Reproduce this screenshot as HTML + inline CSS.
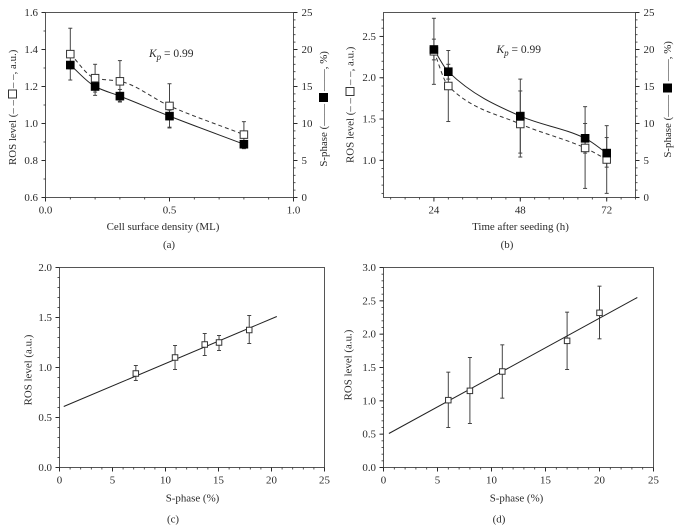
<!DOCTYPE html>
<html lang="en">
<head>
<meta charset="utf-8">
<title>ROS level and S-phase charts</title>
<style>
html,body{margin:0;padding:0;background:#fff;width:680px;height:531px;overflow:hidden}
svg{display:block}
text{font-family:"Liberation Serif",serif;font-size:10.9px;fill:#2a2a2a}
</style>
</head>
<body>
<svg id="figure" width="680" height="531" viewBox="0 0 680 531" xmlns="http://www.w3.org/2000/svg"></svg>
<script>
// Panel (a)
const aDensity = [0.1, 0.2, 0.3, 0.5, 0.8];
const aRos = [1.375, 1.245, 1.228, 1.095, 0.94];
const aRosUpper = [1.515, 1.32, 1.34, 1.215, 1.01];
const aRosLower = [1.235, 1.17, 1.12, 0.98, 0.87];
const aSphase = [17.9, 15, 13.7, 11, 7.2];
const aSphaseUpper = [18.2, 16.4, 14.6, 11.8, 7.7];
const aSphaseLower = [17.4, 13.8, 12.9, 9.4, 6.6];
const aXTicks = ['0.0', '0.5', '1.0'];
const aYTicks = ['0.6', '0.8', '1.0', '1.2', '1.4', '1.6'];
const aRightTicks = ['0', '5', '10', '15', '20', '25'];

// Panel (b)
const bTime = [24, 28, 48, 66, 72];
const bRos = [2.32, 1.9, 1.44, 1.15, 1.01];
const bRosUpper = [2.72, 2.33, 1.84, 1.65, 1.42];
const bRosLower = [1.92, 1.47, 1.04, 0.66, 0.6];
const bSphase = [20, 17, 11, 8, 6];
const bSphaseUpper = [21.4, 18, 16, 10, 8.1];
const bSphaseLower = [18.6, 16, 6, 6, 4.1];
const bXTicks = ['24', '48', '72'];
const bYTicks = ['1.0', '1.5', '2.0', '2.5'];
const bRightTicks = ['0', '5', '10', '15', '20', '25'];

// Panel (c)
const cSphase = [7.2, 10.9, 13.7, 15.05, 17.9];
const cRos = [0.94, 1.1, 1.23, 1.25, 1.375];
const cRosUpper = [1.02, 1.22, 1.34, 1.32, 1.52];
const cRosLower = [0.87, 0.98, 1.12, 1.17, 1.24];
const cFitX = [0.4, 20.5];
const cFitY = [0.61, 1.51];
const cXTicks = ['0', '5', '10', '15', '20', '25'];
const cYTicks = ['0.0', '0.5', '1.0', '1.5', '2.0'];

// Panel (d)
const dSphase = [6, 8, 11, 17, 20];
const dRos = [1.01, 1.15, 1.44, 1.9, 2.32];
const dRosUpper = [1.43, 1.65, 1.84, 2.33, 2.72];
const dRosLower = [0.6, 0.66, 1.04, 1.47, 1.93];
const dFitX = [0.5, 23.5];
const dFitY = [0.51, 2.55];
const dXTicks = ['0', '5', '10', '15', '20', '25'];
const dYTicks = ['0.0', '0.5', '1.0', '1.5', '2.0', '2.5', '3.0'];

const NS = 'http://www.w3.org/2000/svg';
const INK = '#2b2b2b';
const root = document.getElementById('figure');

function mk(tag, attrs, parent) {
  const el = document.createElementNS(NS, tag);
  for (const k in attrs) el.setAttribute(k, attrs[k]);
  parent.appendChild(el);
  return el;
}
function label(parent, str, x, y, anchor, rot) {
  const t = mk('text', {x: x, y: y, 'text-anchor': anchor || 'middle'}, parent);
  if (rot) t.setAttribute('transform', 'rotate(' + rot + ' ' + x + ' ' + y + ')');
  t.textContent = str;
  return t;
}
function ticksRange(lo, hi, step) {
  const out = [];
  const n = Math.round((hi - lo) / step);
  for (let i = 0; i <= n; i++) out.push(lo + i * step);
  return out;
}
function smoothPath(xs, ys, sx, sy) {
  const p = xs.map((v, i) => [sx(v), sy(ys[i])]);
  const n = p.length;
  const slope = [];
  for (let i = 0; i < n - 1; i++) slope.push((p[i + 1][1] - p[i][1]) / (p[i + 1][0] - p[i][0]));
  const tan = p.map((q, i) => {
    if (i === 0) return slope[0];
    if (i === n - 1) return slope[n - 2];
    const h0 = p[i][0] - p[i - 1][0], h1 = p[i + 1][0] - p[i][0];
    const s0 = slope[i - 1], s1 = slope[i];
    if (s0 * s1 <= 0) return 0;
    const w0 = 2 * h1 + h0, w1 = h1 + 2 * h0;
    return (w0 + w1) / (w0 / s0 + w1 / s1);
  });
  let d = 'M' + p[0][0] + ' ' + p[0][1];
  for (let i = 0; i < n - 1; i++) {
    const h = (p[i + 1][0] - p[i][0]) / 3;
    d += ' C' + (p[i][0] + h) + ' ' + (p[i][1] + tan[i] * h) + ' ' +
         (p[i + 1][0] - h) + ' ' + (p[i + 1][1] - tan[i + 1] * h) + ' ' + p[i + 1][0] + ' ' + p[i + 1][1];
  }
  return d;
}
function linScale(d0, d1, r0, r1) {
  return v => r0 + (v - d0) / (d1 - d0) * (r1 - r0);
}

function drawFrame(g, box, sx, sy, xMajors, xMinors, yMajors, yMinors, xLabels, yLabels, yLabelX) {
  const frame = mk('rect', {x: box.l, y: box.t, width: box.r - box.l, height: box.b - box.t, fill: 'none', stroke: '#555', 'stroke-width': 1}, g);
  
  
  xMinors.forEach(v => {
    const t = mk('line', {x1: sx(v), x2: sx(v), y1: box.b, y2: box.b + 2, stroke: INK, 'stroke-width': 0.8}, g);
    
    
  });
  xMajors.forEach((v, i) => {
    const t = mk('line', {x1: sx(v), x2: sx(v), y1: box.b, y2: box.b + 4, stroke: INK, 'stroke-width': 1}, g);
    
    
    const l = label(g, xLabels[i], sx(v), box.b + 16);
    
    
  });
  yMinors.forEach(v => {
    const t = mk('line', {x1: box.l - 2, x2: box.l, y1: sy(v), y2: sy(v), stroke: INK, 'stroke-width': 0.8}, g);
    
    
  });
  yMajors.forEach((v, i) => {
    const t = mk('line', {x1: box.l - 4, x2: box.l, y1: sy(v), y2: sy(v), stroke: INK, 'stroke-width': 1}, g);
    
    
    const l = label(g, yLabels[i], yLabelX, sy(v) + 3.5, 'end');
    
    
  });
}

function drawRightAxis(g, box, sr, majors, minors, labels) {
  minors.forEach(v => {
    const t = mk('line', {x1: box.r, x2: box.r + 2, y1: sr(v), y2: sr(v), stroke: INK, 'stroke-width': 0.8}, g);
    
    
  });
  majors.forEach((v, i) => {
    const t = mk('line', {x1: box.r, x2: box.r + 4, y1: sr(v), y2: sr(v), stroke: INK, 'stroke-width': 1}, g);
    
    
    const l = label(g, labels[i], box.r + 8, sr(v) + 3.5, 'start');
    
    
  });
}

function drawErrors(g, xs, up, lo, sx, sy, cap) {
  xs.forEach((v, i) => {
    const s = mk('line', {x1: sx(v), x2: sx(v), y1: sy(up[i]), y2: sy(lo[i]), stroke: '#444', 'stroke-width': 1}, g);
    
    
    const c1 = mk('line', {x1: sx(v) - cap, x2: sx(v) + cap, y1: sy(up[i]), y2: sy(up[i]), stroke: '#444', 'stroke-width': 1}, g);
    
    
    const c2 = mk('line', {x1: sx(v) - cap, x2: sx(v) + cap, y1: sy(lo[i]), y2: sy(lo[i]), stroke: '#444', 'stroke-width': 1}, g);
    
    
  });
}
function drawSquares(g, xs, ys, sx, sy, size, filled) {
  xs.forEach((v, i) => {
    const r = mk('rect', {x: sx(v) - size / 2, y: sy(ys[i]) - size / 2, width: size, height: size,
      fill: filled ? '#000' : '#fff', stroke: filled ? '#000' : '#333', 'stroke-width': filled ? 0.6 : 1}, g);
    
    
  });
}
function drawKp(g, x, y) {
  const t = mk('text', {x: x, y: y, 'font-size': '11.5px', style: 'font-size:11.5px'}, g);
  
  
  const a = mk('tspan', {'font-style': 'italic'}, t);
  a.textContent = 'K';
  const b = mk('tspan', {'font-style': 'italic', dy: 3, style: 'font-size:9px'}, t);
  b.textContent = 'p';
  const c = mk('tspan', {dy: -3}, t);
  c.textContent = ' = 0.99';
}
function drawLegendTitle(g, x, low, squareY, high) {
  const a = label(g, 'ROS level (\u2013 \u2013', x + 3.5, low, 'end', -90);
  
  
  const s = mk('rect', {x: x - 4, y: squareY - 4, width: 8, height: 8, fill: '#fff', stroke: '#333', 'stroke-width': 1}, g);
  
  
  const b = label(g, '\u2013 \u2013, a.u.)', x + 3.5, high, 'start', -90);
  
  
}
function drawRightTitle(g, x, low, squareY, high) {
  const a = label(g, 'S-phase (\u2014\u2014', x + 3.5, low, 'end', -90);
  
  
  const s = mk('rect', {x: x - 4.5, y: squareY - 4.5, width: 9, height: 9, fill: '#000'}, g);
  
  
  const b = label(g, '\u2014\u2014, %)', x + 3.5, high, 'start', -90);
  
  
}

function drawDual(name, box, xd, yd, xs, ros, rosUp, rosLo, sph, sphUp, sphLo, xMajors, xMinors, yMajors, yMinors, xLab, yLab, rLab, yLabelX) {
  const g = mk('g', {}, root);
  
  
  const sx = linScale(xd[0], xd[1], box.l, box.r);
  const sy = linScale(yd[0], yd[1], box.b, box.t);
  const sr = linScale(0, 25, box.b, box.t);
  drawFrame(g, box, sx, sy, xMajors, xMinors, yMajors, yMinors, xLab, yLab, yLabelX);
  drawRightAxis(g, box, sr, ticksRange(0, 25, 5), ticksRange(0, 25, 1), rLab);
  drawErrors(g, xs, rosUp, rosLo, sx, sy, 2);
  drawErrors(g, xs, sphUp, sphLo, sx, sr, 2);
  const dash = mk('path', {d: smoothPath(xs, ros, sx, sy), fill: 'none', stroke: '#333', 'stroke-width': 1, 'stroke-dasharray': '4 3'}, g);
  
  
  const solid = mk('path', {d: smoothPath(xs, sph, sx, sr), fill: 'none', stroke: '#222', 'stroke-width': 1}, g);
  
  
  drawSquares(g, xs, ros, sx, sy, 7.5, false);
  drawSquares(g, xs, sph, sx, sr, 8, true);
  return g;
}
function drawFit(name, box, xd, yd, xs, ros, up, lo, fitX, fitY, xLab, yLab, yMinorStep, yMax, yLabelX) {
  const g = mk('g', {}, root);
  
  
  const sx = linScale(xd[0], xd[1], box.l, box.r);
  const sy = linScale(yd[0], yd[1], box.b, box.t);
  drawFrame(g, box, sx, sy, ticksRange(0, 25, 5), ticksRange(0, 25, 1), ticksRange(0, yMax, 0.5), ticksRange(0, yMax, yMinorStep), xLab, yLab, yLabelX);
  drawErrors(g, xs, up, lo, sx, sy, 2);
  const fit = mk('line', {x1: sx(fitX[0]), y1: sy(fitY[0]), x2: sx(fitX[1]), y2: sy(fitY[1]), stroke: '#222', 'stroke-width': 1}, g);
  
  
  drawSquares(g, xs, ros, sx, sy, 5.5, false);
  return g;
}

const boxA = {l: 45.5, r: 293.5, t: 12.5, b: 197.5};
const boxB = {l: 383.5, r: 635.5, t: 12.5, b: 197.5};
const boxC = {l: 59.5, r: 324.5, t: 267.5, b: 467.5};
const boxD = {l: 383.5, r: 653.5, t: 267.5, b: 467.5};

const gA = drawDual('panel-a', boxA, [0, 1], [0.6, 1.6], aDensity, aRos, aRosUpper, aRosLower, aSphase, aSphaseUpper, aSphaseLower,
  ticksRange(0, 1, 0.5), ticksRange(0, 1, 0.1), ticksRange(0.6, 1.6, 0.2), ticksRange(0.6, 1.6, 0.1), aXTicks, aYTicks, aRightTicks, 38);
drawKp(gA, 149, 57);
drawLegendTitle(gA, 12.5, 100, 94, 88);
drawRightTitle(gA, 323.5, 104, 97.5, 91);
const tA = label(gA, 'Cell surface density (ML)', 163, 230);


const capA = label(gA, '(a)', 169, 248);



const gB = drawDual('panel-b', boxB, [10, 80], [0.55, 2.79], bTime, bRos, bRosUpper, bRosLower, bSphase, bSphaseUpper, bSphaseLower,
  ticksRange(24, 72, 24), ticksRange(12, 80, 4), ticksRange(1, 2.5, 0.5), ticksRange(0.6, 2.7, 0.1), bXTicks, bYTicks, bRightTicks, 376);
drawKp(gB, 496.5, 53);
drawLegendTitle(gB, 350, 98, 91.5, 85);
drawRightTitle(gB, 667.5, 95, 88, 81);
const tB = label(gB, 'Time after seeding (h)', 520.5, 230);


const capB = label(gB, '(b)', 507, 248);



const gC = drawFit('panel-c', boxC, [0, 25], [0, 2], cSphase, cRos, cRosUpper, cRosLower, cFitX, cFitY, cXTicks, cYTicks, 0.1, 2, 52);
const yC = label(gC, 'ROS level (a.u.)', 31.5, 370, 'middle', -90);


const tC = label(gC, 'S-phase (%)', 192.5, 501.5);


const capC = label(gC, '(c)', 173, 522.5);



const gD = drawFit('panel-d', boxD, [0, 25], [0, 3], dSphase, dRos, dRosUpper, dRosLower, dFitX, dFitY, dXTicks, dYTicks, 0.1, 3, 376);
const yD = label(gD, 'ROS level (a.u.)', 351.5, 365, 'middle', -90);


const tD = label(gD, 'S-phase (%)', 516.5, 501.5);


const capD = label(gD, '(d)', 499, 522.5);


</script>
</body>
</html>
